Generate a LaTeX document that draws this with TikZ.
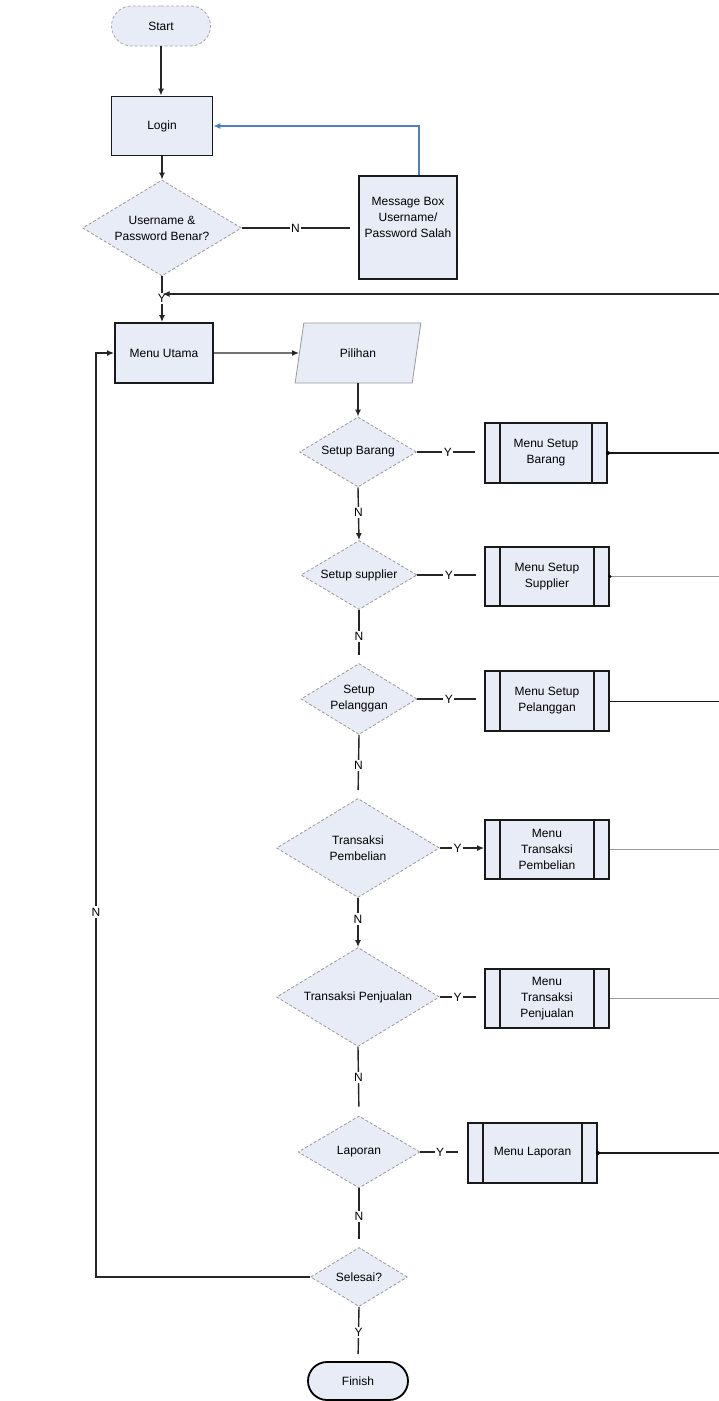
\documentclass[tikz,border=0pt]{standalone}
\usepackage{fontspec}
\setmainfont{Liberation Sans}
\usetikzlibrary{shapes.geometric,shapes.misc,arrows.meta}
\definecolor{boxfill}{RGB}{231,236,247}
\definecolor{linkblue}{RGB}{79,129,189}
\begin{document}
\begin{tikzpicture}[x=1pt,y=-1pt,
  every node/.style={font=\fontsize{12}{16}\selectfont, align=center, inner sep=0pt},
  procbox/.style={rectangle, draw=black!90, line width=1.8pt, fill=boxfill},
  subproc/.style={rectangle, draw=black!90, line width=1.8pt, fill=boxfill,
    path picture={\draw[black!90,line width=1.6pt]
      ([xshift=15pt]path picture bounding box.north west) -- ([xshift=15pt]path picture bounding box.south west)
      ([xshift=-15pt]path picture bounding box.north east) -- ([xshift=-15pt]path picture bounding box.south east);}},
  decision/.style={diamond, aspect=1.6, draw=gray!80, densely dashed, line width=0.8pt, fill=boxfill},
  terminal/.style={rounded rectangle, fill=boxfill},
  conn/.style={draw=black!85, line width=1.4pt},
  arr/.style={conn, -{Latex[length=7pt,width=6pt]}},
  lbl/.style={fill=white, inner sep=1.5pt}
]
\useasboundingbox (0,0) rectangle (719,1401);

% nodes
\node[terminal, draw=gray!70, densely dashed, line width=0.8pt, minimum width=99pt, minimum height=40pt] (start) at (161,26) {Start};
\node[procbox, minimum width=101pt, minimum height=59pt] (login) at (162,126) {Login};
\node[decision, minimum width=159pt, minimum height=96pt] (d1) at (162,228) {Username \&\\Password Benar?};
\node[procbox, minimum width=98pt, minimum height=103pt] (msg) at (408,227.5) {Message Box\\Username/\\Password Salah\\ \strut};
\node[procbox, minimum width=98pt, minimum height=60pt] (menu) at (164,353) {Menu Utama};
\node[trapezium, trapezium left angle=72, trapezium right angle=108, trapezium stretches=true,
      draw=gray!80, line width=0.8pt, fill=boxfill, minimum width=126pt, minimum height=60pt] (pil) at (358,353) {Pilihan};

\node[decision, minimum width=117pt, minimum height=70pt] (sb) at (358,452) {Setup Barang};
\node[subproc, minimum width=122pt, minimum height=60pt] (msb) at (546,453) {Menu Setup\\Barang};
\node[decision, minimum width=116pt, minimum height=69pt] (ss) at (359,575) {Setup supplier};
\node[subproc, minimum width=124pt, minimum height=59pt] (mss) at (547,576.5) {Menu Setup\\Supplier};
\node[decision, minimum width=116pt, minimum height=71pt] (sp) at (359,699) {Setup\\Pelanggan};
\node[subproc, minimum width=124pt, minimum height=60pt] (msp) at (547,701) {Menu Setup\\Pelanggan};
\node[decision, minimum width=163pt, minimum height=99pt] (tb) at (358,848) {Transaksi\\Pembelian};
\node[subproc, minimum width=124pt, minimum height=59pt] (mtb) at (547,849.5) {Menu\\Transaksi\\Pembelian};
\node[decision, minimum width=163pt, minimum height=99pt] (tj) at (358,997) {Transaksi Penjualan};
\node[subproc, minimum width=124pt, minimum height=59pt] (mtj) at (547,998.5) {Menu\\Transaksi\\Penjualan};
\node[decision, minimum width=122pt, minimum height=72pt] (lap) at (359,1152) {Laporan};
\node[subproc, minimum width=129pt, minimum height=60pt] (mlap) at (532.5,1153) {Menu Laporan};
\node[decision, minimum width=97pt, minimum height=59pt] (sel) at (359,1277) {Selesai?};
\node[terminal, draw=black, line width=1.8pt, minimum width=100pt, minimum height=38pt] (fin) at (358,1381) {Finish};

% helper coordinates
\coordinate (rtop) at (719,294);
\coordinate (re) at (719,0);
\coordinate (lx) at (96,0);

% top part
\draw[arr] (start.south) -- (start.south |- login.north);
\draw[arr] (login.south) -- (login.south |- d1.north);
\draw[conn, shorten >=8pt] (d1.east) -- node[lbl, pos=0.46]{N} (d1.east -| msg.west);
\draw[linkblue, line width=1.2pt, -{Latex[length=7pt,width=6pt]}] ([xshift=11pt]msg.north) |- (login.east);
\draw[arr] (d1.south) -- node[lbl, pos=0.49]{Y} (d1.south |- menu.north);
\draw[arr, shorten >=0.5pt] (rtop) -- (rtop -| d1.south);
\draw[arr] (menu.east) -- (pil.west);
\draw[arr] (sb.north |- pil.south) -- (sb.north);

% decisions: yes branches
\draw[conn, shorten >=9pt] (sb.east) -- node[lbl, pos=0.46]{Y} (sb.east -| msb.west);
\draw[conn, shorten >=8pt] (ss.east) -- node[lbl, pos=0.47]{Y} (ss.east -| mss.west);
\draw[conn, shorten >=8pt] (sp.east) -- node[lbl, pos=0.47]{Y} (sp.east -| msp.west);
\draw[arr] (tb.east) -- node[lbl, pos=0.4]{Y} (tb.east -| mtb.west);
\draw[conn, shorten >=8pt] (tj.east) -- node[lbl, pos=0.4]{Y} (tj.east -| mtj.west);
\draw[conn, shorten >=9pt] (lap.east) -- node[lbl, pos=0.42]{Y} (lap.east -| mlap.west);

% decisions: no branches
\draw[arr] (sb.south) -- node[lbl, pos=0.47]{N} (ss.north);
\draw[conn, shorten >=8pt] (ss.south) -- node[lbl, pos=0.5]{N} (sp.north);
\draw[conn, shorten >=8pt] (sp.south) -- node[lbl, pos=0.48]{N} (tb.north);
\draw[arr] (tb.south) -- node[lbl, pos=0.43]{N} (tj.north);
\draw[conn, shorten >=9pt] (tj.south) -- node[lbl, pos=0.45]{N} (lap.north);
\draw[conn, shorten >=8pt] (lap.south) -- node[lbl, pos=0.48]{N} (sel.north);
\draw[conn, shorten >=7pt] (sel.south) -- node[lbl, pos=0.47]{Y} (fin.north);

% loop back to Menu Utama
\draw[arr] (sel.west) -- (sel.west -| lx) -- node[lbl, pos=0.395]{N} (menu.west -| lx) -- (menu.west);

% lines leaving to the right edge
\draw[black!90, line width=1.4pt] (msb.east) -- (msb.east -| re);
\fill (msb.east) circle (2pt);
\draw[gray!80, line width=1pt] (mss.east) -- (mss.east -| re);
\fill (mss.east) circle (1.8pt);
\draw[black!90, line width=1pt] (msp.east) -- (msp.east -| re);
\draw[gray!80, line width=1pt] (mtb.east) -- (mtb.east -| re);
\draw[gray!80, line width=1pt] (mtj.east) -- (mtj.east -| re);
\draw[black!90, line width=1.3pt] (mlap.east) -- (mlap.east -| re);
\fill (mlap.east) circle (2pt);
\end{tikzpicture}
\end{document}
